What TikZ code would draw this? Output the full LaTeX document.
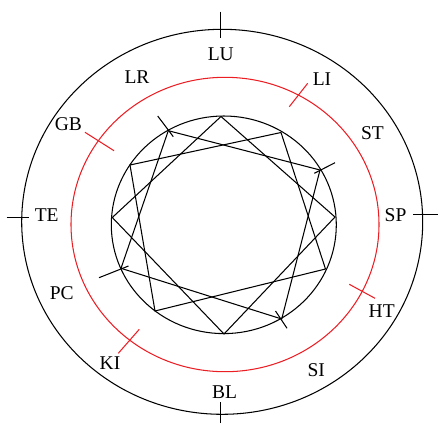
\documentclass[tikz,border=0pt]{standalone}
\usepackage{fontspec}
\setmainfont{Liberation Serif}
\definecolor{ringred}{RGB}{235,30,36}
\begin{document}
\begin{tikzpicture}[x=1pt,y=-1pt,
  ring/.style={line width=1.05pt},
  redring/.style={draw=ringred, line width=1.05pt},
  lab/.style={inner sep=0pt, font=\fontsize{19.5}{19.5}\selectfont},
  chord/.style={line width=1.05pt, line join=miter}]
\useasboundingbox (0,0) rectangle (438,423);
% rings
\draw[ring] (222.2,221.8) ellipse [x radius=200.5pt, y radius=192.5pt];
\draw[redring] (225,224.5) ellipse [x radius=154pt, y radius=147.2pt];
\draw[ring] (223.8,224.8) ellipse [x radius=112.5pt, y radius=108.8pt];
% star vertices
\coordinate (A) at (221,116.5);
\coordinate (B) at (168.3,130.7);
\coordinate (C) at (281,132.5);
\coordinate (D) at (130,165);
\coordinate (E) at (320,170);
\coordinate (F) at (112.3,217.5);
\coordinate (G) at (335,217);
\coordinate (H) at (325.5,269);
\coordinate (I) at (121,268.3);
\coordinate (J) at (155,311);
\coordinate (K) at (281.7,319);
\coordinate (L) at (224,334);
\draw[chord] (A) -- (G) -- (L) -- (F) -- cycle;
\draw[chord] (B) -- (E) -- (K) -- (I) -- cycle;
\draw[chord] (C) -- (H) -- (J) -- (D) -- cycle;
% ticks at star vertices
\coordinate (Bo) at (157.7,116);   \coordinate (Bi) at (173.3,136.7);
\coordinate (Eo) at (335,162.7);   \coordinate (Ei) at (314.3,173.3);
\coordinate (Io) at (99,277.7);    \coordinate (Ii) at (128.5,266);
\coordinate (Ko) at (287,328.3);   \coordinate (Ki) at (275.5,311);
\draw[ring] (Bo) -- (Bi);
\draw[ring] (Eo) -- (Ei);
\draw[ring] (Io) -- (Ii);
\draw[ring] (Ko) -- (Ki);
% ticks on outer ring
\coordinate (LUo) at (220.7,11.7);  \coordinate (LUi) at (220.7,38.3);
\coordinate (BLo) at (220.7,423);   \coordinate (BLi) at (220.7,401.7);
\coordinate (TEo) at (6.7,217.7);   \coordinate (TEi) at (29.3,217.7);
\coordinate (SPo) at (438,214.5);   \coordinate (SPi) at (413.3,214.5);
\draw[ring] (LUo) -- (LUi);
\draw[ring] (BLo) -- (BLi);
\draw[ring] (TEo) -- (TEi);
\draw[ring] (SPo) -- (SPi);
% ticks on red ring
\coordinate (GBo) at (85,132.3);    \coordinate (GBi) at (114,150.7);
\coordinate (LIo) at (307.7,83.3);  \coordinate (LIi) at (289.3,106.7);
\coordinate (HTo) at (375,298.3);   \coordinate (HTi) at (349.3,284.3);
\coordinate (KIo) at (118.3,353.3); \coordinate (KIi) at (139.3,329.3);
\draw[redring] (GBo) -- (GBi);
\draw[redring] (LIo) -- (LIi);
\draw[redring] (HTo) -- (HTi);
\draw[redring] (KIo) -- (KIi);
% labels
\node[lab] (lu) at (220.8,54.3) {LU};
\node[lab] (lr) at (137,76.7) {LR};
\node[lab] (li) at (322,79.5) {LI};
\node[lab] (gb) at (68.3,124.2) {GB};
\node[lab] (st) at (372.5,132.7) {ST};
\node[lab] (te) at (46.7,214.7) {TE};
\node[lab] (sp) at (395.5,215) {SP};
\node[lab] (pc) at (61.7,292.7) {PC};
\node[lab] (ht) at (381.7,311.3) {HT};
\node[lab] (ki) at (110,363.3) {KI};
\node[lab] (si) at (316.2,370) {SI};
\node[lab] (bl) at (224.5,391.7) {BL};
\end{tikzpicture}
\end{document}
